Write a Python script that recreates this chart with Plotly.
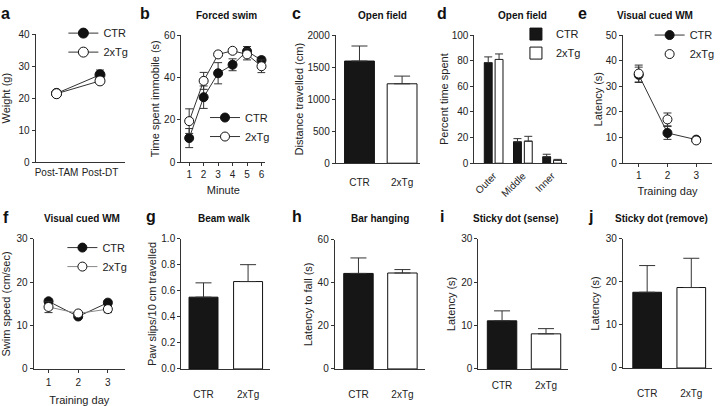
import plotly.graph_objects as go

W, H = 720, 406
FONT = "Liberation Sans, Arial, sans-serif"
INK = "#222222"
LINE = "#333333"

# ---------------- data ----------------
# a  Weight
a_cats = ["Post-TAM", "Post-DT"]
a_ctr = [21.5, 27.3]
a_ctr_err = [0.5, 1.5]
a_tg = [21.4, 25.4]
a_tg_err = [0.5, 0.6]

# b  Forced swim
b_minute = [1, 2, 3, 4, 5, 6]
b_ctr = [11.4, 30.7, 42.0, 46.0, 52.4, 48.2]
b_ctr_err = [4.5, 5.3, 5.0, 2.8, 2.2, 1.5]
b_tg = [19.4, 38.4, 50.9, 52.6, 50.9, 45.3]
b_tg_err = [5.8, 4.0, 1.0, 1.0, 2.6, 3.0]

# c  Open field distance
grp = ["CTR", "2xTg"]
c_val = [1595, 1240]
c_err = [235, 120]

# d  Open field percent time
d_zone = ["Outer", "Middle", "Inner"]
d_ctr = [78.5, 16.7, 5.0]
d_ctr_err = [4.5, 2.5, 2.0]
d_tg = [81.0, 17.2, 2.3]
d_tg_err = [4.3, 3.8, 0.7]

# e  Visual cued WM latency
e_day = [1, 2, 3]
e_ctr = [34.5, 11.8, 9.2]
e_ctr_err = [3.0, 2.5, 0.8]
e_tg = [35.0, 17.1, 8.9]
e_tg_err = [3.3, 2.5, 0.8]

# f  Visual cued WM swim speed
f_day = [1, 2, 3]
f_ctr = [15.6, 12.1, 15.3]
f_ctr_err = [0.5, 0.5, 0.5]
f_tg = [14.3, 12.8, 13.8]
f_tg_err = [1.3, 0.5, 0.8]

# g  Beam walk
g_val = [0.552, 0.672]
g_err = [0.11, 0.13]

# h  Bar hanging
h_val = [44.4, 44.6]
h_err = [7.2, 1.6]

# i  Sticky dot (sense)
i_val = [11.1, 8.1]
i_err = [2.3, 1.2]

# j  Sticky dot (remove)
j_val = [17.6, 18.7]
j_err = [6.2, 6.8]

# ---------------- helpers ----------------
def xd(l, r):
    return [l / W, r / W]

def yd(t, b):
    return [1 - b / H, 1 - t / H]

fig = go.Figure()

def line_trace(x, y, err, filled, ax, legend, mode="lines+markers", size=9, lcolor=LINE, show=True):
    return go.Scatter(
        x=x, y=y, mode=mode, name="CTR" if filled else "2xTg",
        xaxis="x" + ax, yaxis="y" + ax, legend=legend, showlegend=show,
        line=dict(color=lcolor, width=1),
        marker=dict(size=size, color="#111111" if filled else "white",
                    line=dict(color="#111111", width=1), symbol="circle"),
        error_y=dict(type="data", array=err, color=LINE, thickness=1, width=4),
        cliponaxis=False,
    )

def bar_trace(x, y, err, filled, ax, width, offset=None, legend="legend", show=False, cap=8):
    kw = {}
    if offset is not None:
        kw["offset"] = offset
    return go.Bar(
        x=x, y=y, name="CTR" if filled else "2xTg",
        xaxis="x" + ax, yaxis="y" + ax, legend=legend, showlegend=show,
        width=width,
        marker=dict(color="#161616" if filled else "white", line=dict(color="#111111", width=1)),
        error_y=dict(type="data", array=err, arrayminus=[0] * len(err), symmetric=False,
                     color=LINE, thickness=1, width=cap),
        **kw,
    )

# a
fig.add_trace(line_trace(a_cats, a_ctr, a_ctr_err, True, "", "legend", size=10))
fig.add_trace(line_trace(a_cats, a_tg, a_tg_err, False, "", "legend", size=10))
# b
fig.add_trace(line_trace(b_minute, b_ctr, b_ctr_err, True, "2", "legend2"))
fig.add_trace(line_trace(b_minute, b_tg, b_tg_err, False, "2", "legend2"))
# c
fig.add_trace(bar_trace([grp[0]], [c_val[0]], [c_err[0]], True, "3", 0.70))
fig.add_trace(bar_trace([grp[1]], [c_val[1]], [c_err[1]], False, "3", 0.70))
# d
fig.add_trace(bar_trace(d_zone, d_ctr, d_ctr_err, True, "4", 0.27, offset=-0.32, legend="legend3", show=True, cap=4))
fig.add_trace(bar_trace(d_zone, d_tg, d_tg_err, False, "4", 0.27, offset=0.05, legend="legend3", show=True, cap=4))
# e
fig.add_trace(line_trace(e_day, e_ctr, e_ctr_err, True, "5", "legend4"))
fig.add_trace(line_trace(e_day, e_tg, e_tg_err, False, "5", "legend4", mode="markers"))
# f
fig.add_trace(line_trace(f_day, f_ctr, f_ctr_err, True, "6", "legend5"))
fig.add_trace(line_trace(f_day, f_tg, f_tg_err, False, "6", "legend5", lcolor="#888888"))
# g, h, i, j
for ax, vals, errs, w in [("7", g_val, g_err, 0.65), ("8", h_val, h_err, 0.67),
                          ("9", i_val, i_err, 0.67), ("10", j_val, j_err, 0.65)]:
    fig.add_trace(bar_trace([grp[0]], [vals[0]], [errs[0]], True, ax, w))
    fig.add_trace(bar_trace([grp[1]], [vals[1]], [errs[1]], False, ax, w))

# ---------------- axes ----------------
tickfont = dict(family=FONT, size=10, color=INK)
titlefont = dict(family=FONT, size=11, color=INK)

def yaxis(dom, rng, dtick, title, standoff, anchor, fmt=None):
    d = dict(domain=dom, range=rng, dtick=dtick, tick0=0, anchor=anchor, showline=True, linecolor=LINE,
             linewidth=1, ticks="outside", ticklen=3, tickcolor=LINE, tickfont=tickfont, showgrid=False,
             zeroline=False, title=dict(text=title, font=titlefont, standoff=standoff), fixedrange=True)
    if fmt:
        d["tickformat"] = fmt
    return d

def xaxis(dom, rng, anchor, ticks="", title=None, tlstand=3, tickangle=None, cat=False, standoff=4):
    d = dict(domain=dom, range=rng, anchor=anchor, showline=True, linecolor=LINE, linewidth=1,
             ticks=ticks, ticklen=3, tickcolor=LINE, tickfont=tickfont, showgrid=False,
             zeroline=False, ticklabelstandoff=tlstand, fixedrange=True)
    if cat:
        d["type"] = "category"
    else:
        d["dtick"] = 1
    if tickangle is not None:
        d["tickangle"] = tickangle
    if title:
        d["title"] = dict(text=title, font=titlefont, standoff=standoff)
    return d

layout = dict(
    width=W, height=H, margin=dict(l=0, r=0, t=0, b=0),
    paper_bgcolor="white", plot_bgcolor="white",
    font=dict(family=FONT, color=INK), barmode="overlay",
)

# a
layout["xaxis"] = xaxis(xd(35, 125), [-0.48, 1.57], "y", tlstand=1, cat=True)
layout["yaxis"] = yaxis(yd(29, 161), [0, 40], 10, "Weight (g)", 5, "x")
# b
layout["xaxis2"] = xaxis(xd(182, 267), [0.45, 6.27], "y2", ticks="outside", title="Minute", tlstand=0, standoff=7)
layout["yaxis2"] = yaxis(yd(30, 161), [0, 60], 20, "Time spent immobile (s)", 2, "x2")
# c
layout["xaxis3"] = xaxis(xd(338, 423), [-0.558, 1.418], "y3", tlstand=10, cat=True)
layout["yaxis3"] = yaxis(yd(30, 162), [0, 2000], 500, "Distance travelled (cm)", 1, "x3")
# d
layout["xaxis4"] = xaxis(xd(478, 572), [-0.66, 2.525], "y4", tlstand=2, tickangle=-45, cat=True)
layout["yaxis4"] = yaxis(yd(30, 162), [0, 100], 20, "Percent time spent", 0, "x4")
# e
layout["xaxis5"] = xaxis(xd(628, 718), [0.45, 3.55], "y5", ticks="outside", title="Training day", tlstand=0, standoff=7)
layout["yaxis5"] = yaxis(yd(30, 162), [0, 50], 10, "Latency (s)", 0, "x5")
# f
layout["xaxis6"] = xaxis(xd(33, 125), [0.5, 3.57], "y6", ticks="outside", title="Training day", tlstand=1, standoff=9)
layout["yaxis6"] = yaxis(yd(240, 374), [0, 30], 10, "Swim speed (cm/sec)", 3, "x6")
# g
layout["xaxis7"] = xaxis(xd(182, 272), [-0.5, 1.5], "y7", tlstand=16, cat=True)
layout["yaxis7"] = yaxis(yd(240, 374), [0, 1.0], 0.2, "Paw slips/10 cm travelled", 2, "x7", fmt=".1f")
# h
layout["xaxis8"] = xaxis(xd(337, 428), [-0.54, 1.51], "y8", tlstand=16, cat=True)
layout["yaxis8"] = yaxis(yd(241, 374), [0, 60], 20, "Latency to fall (s)", 2, "x8")
# i
layout["xaxis9"] = xaxis(xd(482, 573), [-0.54, 1.51], "y9", tlstand=7, cat=True)
layout["yaxis9"] = yaxis(yd(240, 374), [0, 30], 10, "Latency (s)", 3, "x9")
# j
layout["xaxis10"] = xaxis(xd(628, 718), [-0.55, 1.47], "y10", tlstand=16, cat=True)
layout["yaxis10"] = yaxis(yd(240, 373), [0, 30], 10, "Latency (s)", 3, "x10")

def legend_at(x, y):
    return dict(x=x / W, y=1 - y / H, xanchor="left", yanchor="top", bgcolor="rgba(0,0,0,0)",
                font=dict(family=FONT, size=11, color=INK), itemclick=False, itemdoubleclick=False,
                tracegroupgap=0, itemwidth=30)

layout["legend"] = legend_at(63, 13)
layout["legend2"] = legend_at(206, 100)
layout["legend3"] = legend_at(520, 14)
layout["legend4"] = legend_at(655, 15)
layout["legend5"] = legend_at(62, 234)

fig.update_layout(**layout)

# panel letters and titles
letters = [("a", 5, 8), ("b", 145, 8), ("c", 298, 8), ("d", 445, 8), ("e", 587, 8),
           ("f", 5, 218), ("g", 151, 217), ("h", 299, 217), ("i", 445, 217), ("j", 595, 217)]
for t, x, y in letters:
    fig.add_annotation(text="<b>%s</b>" % t, x=x / W, y=1 - y / H, xref="paper", yref="paper",
                       xanchor="center", yanchor="middle", showarrow=False,
                       font=dict(family=FONT, size=16, color="#111111"))

titles = [("Forced swim", 228, 10), ("Open field", 385, 10), ("Open field", 527, 10),
          ("Visual cued WM", 660, 10), ("Visual cued WM", 82, 219), ("Beam walk", 225, 219),
          ("Bar hanging", 383, 219), ("Sticky dot (sense)", 520, 219), ("Sticky dot (remove)", 667, 219)]
for t, x, y in titles:
    fig.add_annotation(text="<b>%s</b>" % t, x=x / W, y=1 - y / H, xref="paper", yref="paper",
                       xanchor="center", yanchor="middle", showarrow=False,
                       font=dict(family=FONT, size=10, color="#111111"))

fig.write_html("out.html", config={"displayModeBar": False},
               post_script="document.body.style.margin='0';document.body.style.overflow='hidden';")
